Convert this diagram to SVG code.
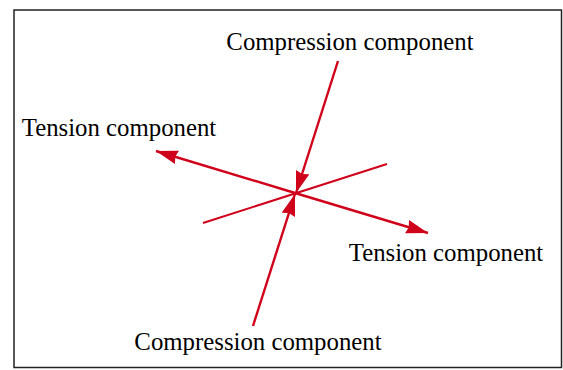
<svg xmlns="http://www.w3.org/2000/svg" width="563" height="370" viewBox="0 0 563 370">
  <style>
    .lbl { font-family: "Liberation Serif", "Times New Roman", serif; font-size: 24.8px; fill: #000; }
    .arrow { stroke: #d0021b; stroke-width: 2.4; fill: none; marker-end: url(#head); }
    .plain { stroke: #d0021b; stroke-width: 2; fill: none; }
  </style>
  <defs>
    <marker id="head" markerUnits="userSpaceOnUse" markerWidth="24" markerHeight="16" refX="22" refY="7" orient="auto">
      <path d="M0,0 L22,7 L0,14 L2,7 Z" fill="#d0021b"/>
    </marker>
  </defs>
  <rect x="14" y="10" width="547.5" height="357.5" fill="#fff" stroke="#222" stroke-width="1.5"/>
  <g id="connectors">
    <line class="plain" x1="203" y1="223" x2="387" y2="164"/>
    <line class="arrow" x1="338" y1="61" x2="296" y2="193"/>
    <line class="arrow" x1="253" y1="326" x2="295" y2="194"/>
    <line class="arrow" x1="295" y1="193" x2="156" y2="151"/>
    <line class="arrow" x1="295" y1="193" x2="428" y2="233"/>
  </g>
  <g id="label-compression-top"><text class="lbl" x="350" y="50" text-anchor="middle">Compression component</text></g>
  <g id="label-tension-left"><text class="lbl" x="119" y="136" text-anchor="middle">Tension component</text></g>
  <g id="label-tension-right"><text class="lbl" x="446" y="261" text-anchor="middle">Tension component</text></g>
  <g id="label-compression-bottom"><text class="lbl" x="258" y="350" text-anchor="middle">Compression component</text></g>
</svg>
